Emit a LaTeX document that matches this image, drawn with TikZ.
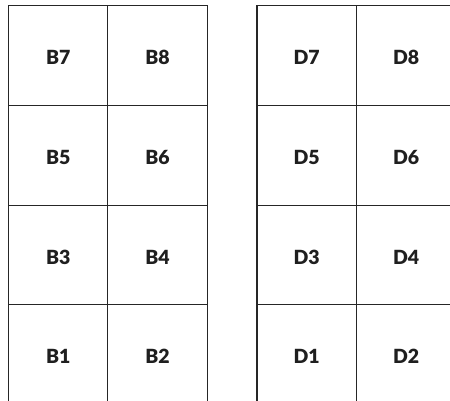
\documentclass[tikz,border=0pt]{standalone}
\usepackage{fontspec}
\newfontfamily\labfont{Lato Black}
\begin{document}
\begin{tikzpicture}[x=1pt,y=-1pt,
  cell/.style={draw=black!85, line width=1.1pt, minimum width=99.4pt, minimum height=99.8pt,
    inner sep=0pt, outer sep=0pt, anchor=north west,
    font=\labfont\fontsize{19.5}{22}\selectfont, text=black!88,
    text height=18pt, text depth=0pt}]
\useasboundingbox (0,0) rectangle (450,401);
\clip (0,0) rectangle (450,401);
% left grid (B)
\node[cell] (B7) at (8.5,5.5) {B7};
\node[cell] (B8) at (107.9,5.5) {B8};
\node[cell] (B5) at (8.5,105.3) {B5};
\node[cell] (B6) at (107.9,105.3) {B6};
\node[cell] (B3) at (8.5,205.1) {B3};
\node[cell] (B4) at (107.9,205.1) {B4};
\node[cell] (B1) at (8.5,304.9) {B1};
\node[cell] (B2) at (107.9,304.9) {B2};
% right grid (D)
\node[cell] (D7) at (257,5.5) {D7};
\node[cell] (D8) at (356.4,5.5) {D8};
\node[cell] (D5) at (257,105.3) {D5};
\node[cell] (D6) at (356.4,105.3) {D6};
\node[cell] (D3) at (257,205.1) {D3};
\node[cell] (D4) at (356.4,205.1) {D4};
\node[cell] (D1) at (257,304.9) {D1};
\node[cell] (D2) at (356.4,304.9) {D2};
\end{tikzpicture}
\end{document}
